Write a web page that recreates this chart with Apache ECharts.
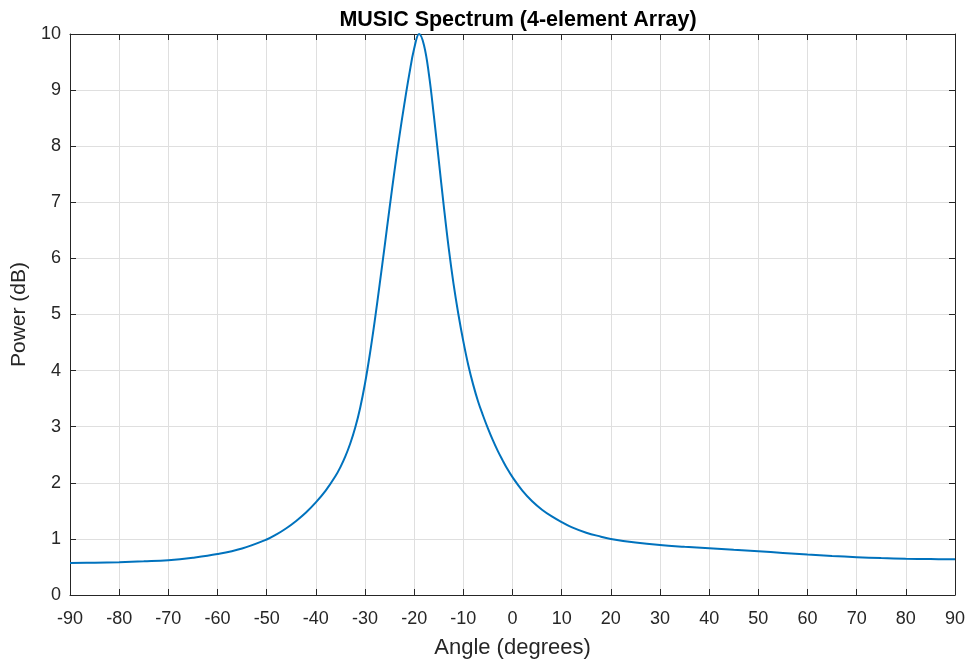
<!DOCTYPE html>
<html>
<head>
<meta charset="utf-8">
<script src="https://cdn.jsdelivr.net/npm/echarts@6/dist/echarts.min.js"></script>
<style>html,body{margin:0;padding:0;background:#fff}#c{width:969px;height:666px}</style>
</head>
<body>
<div id="c"></div>
<script>
const titleText = "MUSIC Spectrum (4-element Array)";
const xName = "Angle (degrees)";
const yName = "Power (dB)";
const angles = [-90,-85,-80,-75,-70,-65,-60,-55,-50,-48,-46,-44,-42,-40,-38,-36,-35,-34,-33,-32,-31,-30,-29,-28,-27,-26,-25,-24,-23,-22,-21,-20,-19,-18,-17,-16,-15,-14,-13,-12,-11,-10,-9,-8,-7,-6,-5,-4,-3,-2,-1,0,2,4,6,8,10,12,15,18,20,25,30,35,40,45,50,55,60,65,70,75,80,85,90];
const power = [0.57,0.575,0.585,0.6,0.62,0.665,0.73,0.83,0.99,1.08,1.19,1.32,1.47,1.65,1.86,2.12,2.28,2.47,2.7,2.98,3.33,3.77,4.3,4.9,5.55,6.22,6.9,7.56,8.18,8.75,9.28,9.74,10.0,9.8,9.28,8.55,7.75,6.95,6.2,5.55,5.0,4.52,4.1,3.75,3.45,3.2,2.97,2.76,2.57,2.4,2.24,2.1,1.86,1.67,1.52,1.4,1.3,1.21,1.11,1.04,1.0,0.935,0.89,0.86,0.835,0.805,0.78,0.75,0.72,0.695,0.675,0.658,0.646,0.64,0.636];

const chart = echarts.init(document.getElementById('c'), null, {renderer:'canvas'});
const axisColor = '#262626';
const font = 'Liberation Sans, Arial, Helvetica, sans-serif';
const gridLine = {show:true, lineStyle:{color:'#dfdfdf', width:1}};
chart.setOption({
  animation:false,
  backgroundColor:'#fff',
  title:{text:titleText, left:513, textAlign:'center', top:4,
    textStyle:{fontFamily:font, fontSize:21.5, fontWeight:'bold', color:'#000'}},
  grid:{left:70, right:14, top:34, bottom:71, containLabel:false},
  xAxis:[{
    type:'value', min:-90, max:90, interval:10, position:'bottom',
    name:xName, nameLocation:'middle', nameGap:42,
    nameTextStyle:{fontFamily:font, fontSize:22, color:axisColor},
    axisLine:{show:true, onZero:false, lineStyle:{color:axisColor, width:1}},
    axisTick:{show:true, inside:true, length:6, lineStyle:{color:axisColor}},
    axisLabel:{fontFamily:font, fontSize:18, color:axisColor, margin:15},
    splitLine:gridLine
  },{
    type:'value', min:-90, max:90, interval:10, position:'top',
    axisLine:{show:true, onZero:false, lineStyle:{color:axisColor, width:1}},
    axisTick:{show:true, inside:true, length:6, lineStyle:{color:axisColor}},
    axisLabel:{show:false}, splitLine:{show:false}
  }],
  yAxis:[{
    type:'value', min:0, max:10, interval:1, position:'left',
    name:yName, nameLocation:'middle', nameGap:38, nameRotate:90,
    nameTextStyle:{fontFamily:font, fontSize:21, color:axisColor},
    axisLine:{show:true, onZero:false, lineStyle:{color:axisColor, width:1}},
    axisTick:{show:true, inside:true, length:6, lineStyle:{color:axisColor}},
    axisLabel:{fontFamily:font, fontSize:18, color:axisColor, margin:9},
    splitLine:gridLine
  },{
    type:'value', min:0, max:10, interval:1, position:'right',
    axisLine:{show:true, onZero:false, lineStyle:{color:axisColor, width:1}},
    axisTick:{show:true, inside:true, length:6, lineStyle:{color:axisColor}},
    axisLabel:{show:false}, splitLine:{show:false}
  }],
  series:[{
    type:'line', xAxisIndex:0, yAxisIndex:0,
    data: angles.map((a,i)=>[a, power[i]]),
    showSymbol:false, smooth:0.4,
    lineStyle:{color:'#0072BD', width:2},
    itemStyle:{color:'#0072BD'}
  }]
});
</script>
</body>
</html>
